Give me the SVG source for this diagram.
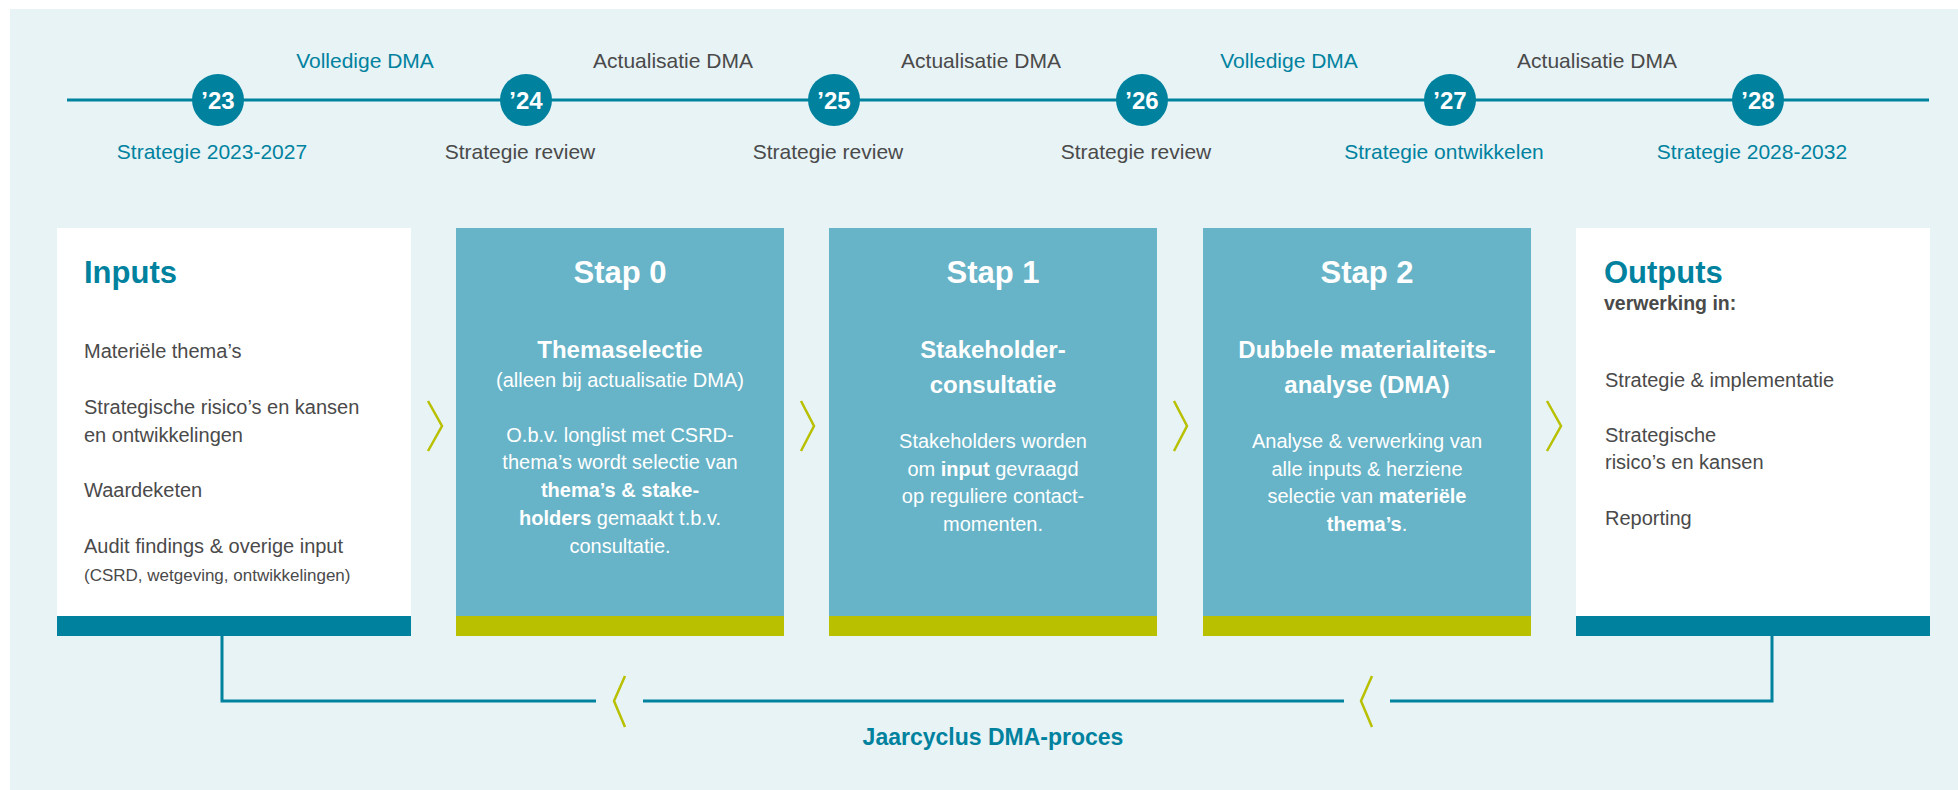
<svg xmlns="http://www.w3.org/2000/svg" width="1958" height="790" viewBox="0 0 1958 790">
<defs>
<style>
text{font-family:"Liberation Sans",Arial,sans-serif;}
.tl{font-size:21px;text-anchor:middle;}
.teal{fill:#00829f;}
.gray{fill:#4a4a4a;}
.yr{font-size:24px;font-weight:bold;fill:#ffffff;text-anchor:middle;}
.item{font-size:20px;fill:#4a4a4a;}
.small{font-size:17px;}
.wt{fill:#ffffff;text-anchor:middle;font-size:20px;}
.head{font-size:31px;font-weight:bold;}
.sub{font-size:24px;font-weight:bold;}
.lbl{font-size:19.5px;font-weight:bold;}
.b{font-weight:bold;}
.chev{fill:none;stroke:#b8c000;stroke-width:2.5;}
.line{fill:none;stroke:#00829f;stroke-width:3;}
</style>
</defs>
<rect x="10" y="9" width="1948" height="781" fill="#e7f3f5"/>

<g id="timeline">
<line class="line" x1="67" y1="100" x2="1929" y2="100"/>
<g id="y23"><circle cx="218" cy="100" r="26" fill="#00829f"/><text class="yr" x="218" y="109">’23</text></g>
<g id="y24"><circle cx="526" cy="100" r="26" fill="#00829f"/><text class="yr" x="526" y="109">’24</text></g>
<g id="y25"><circle cx="834" cy="100" r="26" fill="#00829f"/><text class="yr" x="834" y="109">’25</text></g>
<g id="y26"><circle cx="1142" cy="100" r="26" fill="#00829f"/><text class="yr" x="1142" y="109">’26</text></g>
<g id="y27"><circle cx="1450" cy="100" r="26" fill="#00829f"/><text class="yr" x="1450" y="109">’27</text></g>
<g id="y28"><circle cx="1758" cy="100" r="26" fill="#00829f"/><text class="yr" x="1758" y="109">’28</text></g>
<text class="tl teal" x="365" y="68">Volledige DMA</text>
<text class="tl gray" x="673" y="68">Actualisatie DMA</text>
<text class="tl gray" x="981" y="68">Actualisatie DMA</text>
<text class="tl teal" x="1289" y="68">Volledige DMA</text>
<text class="tl gray" x="1597" y="68">Actualisatie DMA</text>
<text class="tl teal" x="212" y="159">Strategie 2023-2027</text>
<text class="tl gray" x="520" y="159">Strategie review</text>
<text class="tl gray" x="828" y="159">Strategie review</text>
<text class="tl gray" x="1136" y="159">Strategie review</text>
<text class="tl teal" x="1444" y="159">Strategie ontwikkelen</text>
<text class="tl teal" x="1752" y="159">Strategie 2028-2032</text>
</g>

<g id="connectors">
<polyline class="chev" points="428,401 442,426 428,451"/>
<polyline class="chev" points="801,401 814,426 801,451"/>
<polyline class="chev" points="1174,401 1187,426 1174,451"/>
<polyline class="chev" points="1547,401 1561,426 1547,451"/>
<polyline class="line" points="222,636 222,701 596,701"/>
<line class="line" x1="643" y1="701" x2="1344" y2="701"/>
<polyline class="line" points="1390,701 1772,701 1772,636"/>
<polyline class="chev" points="625,676 614,701 625,727"/>
<polyline class="chev" points="1372,676 1361,701 1372,727"/>
<text x="993" y="745" text-anchor="middle" font-size="23" font-weight="bold" fill="#00829f">Jaarcyclus DMA-proces</text>
</g>

<g id="inputs">
<rect x="57" y="228" width="354" height="388" fill="#ffffff"/>
<rect x="57" y="616" width="354" height="20" fill="#00829f"/>
<text class="head teal" x="84" y="283">Inputs</text>
<text class="item" x="84" y="358">Materiële thema’s</text>
<text class="item" x="84" y="414">Strategische risico’s en kansen</text>
<text class="item" x="84" y="442">en ontwikkelingen</text>
<text class="item" x="84" y="497">Waardeketen</text>
<text class="item" x="84" y="553">Audit findings &amp; overige input</text>
<text class="item small" x="84" y="581">(CSRD, wetgeving, ontwikkelingen)</text>
</g>

<g id="stap0">
<rect x="456" y="228" width="328" height="388" fill="#67b3c7"/>
<rect x="456" y="616" width="328" height="20" fill="#b8c000"/>
<text class="wt head" x="620" y="283">Stap 0</text>
<text class="wt sub" x="620" y="358">Themaselectie</text>
<text class="wt" x="620" y="387">(alleen bij actualisatie DMA)</text>
<text class="wt" x="620" y="442">O.b.v. longlist met CSRD-</text>
<text class="wt" x="620" y="469">thema’s wordt selectie van</text>
<text class="wt b" x="620" y="497">thema’s &amp; stake-</text>
<text class="wt" x="620" y="525"><tspan class="b">holders</tspan> gemaakt t.b.v.</text>
<text class="wt" x="620" y="553">consultatie.</text>
</g>

<g id="stap1">
<rect x="829" y="228" width="328" height="388" fill="#67b3c7"/>
<rect x="829" y="616" width="328" height="20" fill="#b8c000"/>
<text class="wt head" x="993" y="283">Stap 1</text>
<text class="wt sub" x="993" y="358">Stakeholder-</text>
<text class="wt sub" x="993" y="393">consultatie</text>
<text class="wt" x="993" y="448">Stakeholders worden</text>
<text class="wt" x="993" y="476">om <tspan class="b">input</tspan> gevraagd</text>
<text class="wt" x="993" y="503">op reguliere contact-</text>
<text class="wt" x="993" y="531">momenten.</text>
</g>

<g id="stap2">
<rect x="1203" y="228" width="328" height="388" fill="#67b3c7"/>
<rect x="1203" y="616" width="328" height="20" fill="#b8c000"/>
<text class="wt head" x="1367" y="283">Stap 2</text>
<text class="wt sub" x="1367" y="358">Dubbele materialiteits-</text>
<text class="wt sub" x="1367" y="393">analyse (DMA)</text>
<text class="wt" x="1367" y="448">Analyse &amp; verwerking van</text>
<text class="wt" x="1367" y="476">alle inputs &amp; herziene</text>
<text class="wt" x="1367" y="503">selectie van <tspan class="b">materiële</tspan></text>
<text class="wt" x="1367" y="531"><tspan class="b">thema’s</tspan>.</text>
</g>

<g id="outputs">
<rect x="1576" y="228" width="354" height="388" fill="#ffffff"/>
<rect x="1576" y="616" width="354" height="20" fill="#00829f"/>
<text class="head teal" x="1604" y="283">Outputs</text>
<text class="gray lbl" x="1604" y="310">verwerking in:</text>
<text class="item" x="1605" y="387">Strategie &amp; implementatie</text>
<text class="item" x="1605" y="442">Strategische</text>
<text class="item" x="1605" y="469">risico’s en kansen</text>
<text class="item" x="1605" y="525">Reporting</text>
</g>
</svg>
